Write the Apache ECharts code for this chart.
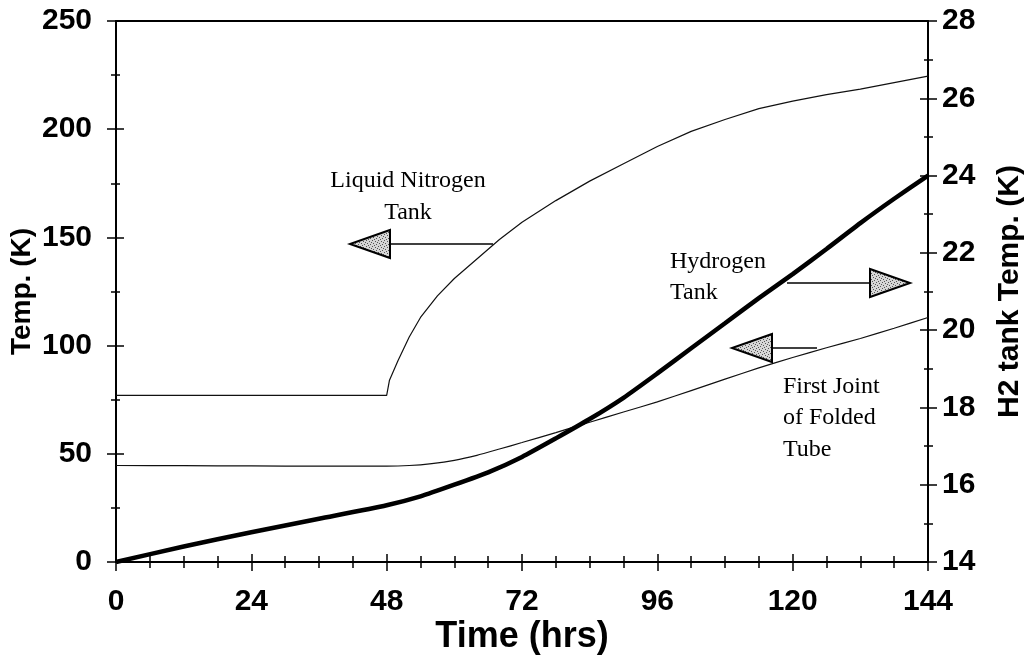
<!DOCTYPE html>
<html>
<head>
<meta charset="utf-8">
<script src="https://cdn.jsdelivr.net/npm/echarts@6/dist/echarts.min.js"></script>
<style>
html,body{margin:0;padding:0;background:#fff;overflow:hidden;}
#chart{width:1026px;height:660px;}
</style>
</head>
<body>
<div id="chart"></div>
<script>
// ---- Data ----
const ln2Hours = [0, 48, 48.5, 50, 52, 54, 57, 60, 64, 68, 72, 78, 84, 90, 96, 102, 108, 114, 120, 126, 132, 138, 144];
const ln2Temp  = [77, 77, 84, 93, 104, 113, 123, 131, 140, 149, 157, 167, 176, 184, 192, 199, 204.5, 209.5, 213, 216, 218.5, 221.5, 224.5];

const jointHours = [0, 12, 24, 36, 48, 52, 56, 60, 64, 68, 72, 78, 84, 90, 96, 102, 108, 114, 120, 126, 132, 138, 144];
const jointTemp  = [44.6, 44.5, 44.4, 44.3, 44.3, 44.6, 45.5, 47, 49.3, 52.2, 55.2, 59.8, 64.6, 69.3, 74, 79.2, 84.5, 89.7, 94.5, 99, 103.3, 108, 113];

const h2Hours = [0, 12, 24, 36, 48, 54, 60, 66, 72, 78, 84, 90, 96, 102, 108, 114, 120, 126, 132, 138, 144];
const h2Temp  = [14.0, 14.4, 14.77, 15.12, 15.47, 15.7, 16.0, 16.32, 16.72, 17.2, 17.7, 18.25, 18.88, 19.53, 20.18, 20.83, 21.45, 22.1, 22.77, 23.4, 24.0];

const xTicks = [0, 24, 48, 72, 96, 120, 144];
const leftTicks = [0, 50, 100, 150, 200, 250];
const rightTicks = [14, 16, 18, 20, 22, 24, 26, 28];

const zip = (a, b) => a.map((v, i) => [v, b[i]]);

// stipple pattern for arrow heads
const pat = document.createElement('canvas');
pat.width = 6; pat.height = 6;
(function(){
  const c = pat.getContext('2d');
  c.fillStyle = '#d6d6d6'; c.fillRect(0,0,6,6);
  c.fillStyle = '#555';
  [[0,0],[3,1],[1,3],[4,4],[5,2],[2,5]].forEach(p => c.fillRect(p[0], p[1], 1, 1));
})();

const chart = echarts.init(document.getElementById('chart'), null, {renderer: 'canvas'});
const sans = '"Liberation Sans", Arial, sans-serif';
const serif = '"Liberation Serif", "Times New Roman", serif';
const axisLine = {show: true, onZero: false, lineStyle: {color: '#000', width: 2}};
const noLine = {show: false, onZero: false};
const tickStyle = {color: '#000', width: 1.5};

function yAxisBase(extra) {
  return Object.assign({
    type: 'value',
    splitLine: {show: false},
    axisLine: axisLine
  }, extra);
}

const option = {
  animation: false,
  backgroundColor: '#fff',
  grid: {left: 116, right: 98, top: 21, bottom: 98, containLabel: false, outerBoundsMode: 'none'},
  xAxis: [
    {
      type: 'value', position: 'bottom', min: 0, max: 144, interval: 24,
      axisLine: axisLine,
      axisTick: {show: true, inside: false, length: 9, lineStyle: tickStyle},
      minorTick: {show: true, splitNumber: 4, length: 6, lineStyle: tickStyle},
      axisLabel: {show: true, margin: 25, fontFamily: sans, fontWeight: 'bold', fontSize: 30, color: '#000',
        formatter: v => xTicks.includes(v) ? String(v) : ''},
      splitLine: {show: false},
      name: 'Time (hrs)', nameLocation: 'middle', nameGap: 57, nameMoveOverlap: false,
      nameTextStyle: {fontFamily: sans, fontWeight: 'bold', fontSize: 36, color: '#000'}
    },
    {
      type: 'value', position: 'bottom', min: 0, max: 144, interval: 24,
      axisLine: noLine,
      axisTick: {show: true, inside: true, length: 8, lineStyle: tickStyle},
      minorTick: {show: true, splitNumber: 4, length: 6, lineStyle: tickStyle},
      axisLabel: {show: false}, splitLine: {show: false}
    },
    {
      type: 'value', position: 'top', min: 0, max: 144,
      axisLine: axisLine, axisTick: {show: false}, axisLabel: {show: false}, splitLine: {show: false}
    }
  ],
  yAxis: [
    yAxisBase({
      position: 'left', min: 0, max: 250, interval: 50,
      axisTick: {show: true, inside: false, length: 9, lineStyle: tickStyle},
      minorTick: {show: true, splitNumber: 2, length: 5, lineStyle: tickStyle},
      axisLabel: {margin: 24, fontFamily: sans, fontWeight: 'bold', fontSize: 30, color: '#000',
        formatter: v => leftTicks.includes(v) ? String(v) : ''},
      name: 'Temp. (K)', nameLocation: 'middle', nameGap: 80, nameRotate: 90, nameMoveOverlap: false,
      nameTextStyle: {fontFamily: sans, fontWeight: 'bold', fontSize: 28, color: '#000'}
    }),
    yAxisBase({
      position: 'right', min: 14, max: 28, interval: 2,
      axisTick: {show: true, inside: false, length: 9, lineStyle: tickStyle},
      minorTick: {show: true, splitNumber: 2, length: 5, lineStyle: tickStyle},
      axisLabel: {margin: 14, fontFamily: sans, fontWeight: 'bold', fontSize: 30, color: '#000',
        formatter: v => rightTicks.includes(v) ? String(v) : ''},
      name: 'H2 tank Temp. (K)', nameLocation: 'middle', nameGap: 67, nameRotate: 90, nameMoveOverlap: false,
      nameTextStyle: {fontFamily: sans, fontWeight: 'bold', fontSize: 30, color: '#000'}
    }),
    yAxisBase({
      position: 'left', min: 0, max: 250, interval: 50, axisLine: noLine,
      axisTick: {show: true, inside: true, length: 8, lineStyle: tickStyle},
      minorTick: {show: true, splitNumber: 2, length: 4, lineStyle: tickStyle},
      axisLabel: {show: false}
    }),
    yAxisBase({
      position: 'right', min: 14, max: 28, interval: 2, axisLine: noLine,
      axisTick: {show: true, inside: true, length: 8, lineStyle: tickStyle},
      minorTick: {show: true, splitNumber: 2, length: 4, lineStyle: tickStyle},
      axisLabel: {show: false}
    })
  ],
  series: [
    {
      name: 'Liquid Nitrogen Tank', type: 'line', xAxisIndex: 0, yAxisIndex: 0,
      data: zip(ln2Hours, ln2Temp), showSymbol: false, smooth: false,
      lineStyle: {color: '#111', width: 1.2}
    },
    {
      name: 'First Joint of Folded Tube', type: 'line', xAxisIndex: 0, yAxisIndex: 0,
      data: zip(jointHours, jointTemp), showSymbol: false, smooth: 0.2,
      lineStyle: {color: '#111', width: 1.2}
    },
    {
      name: 'Hydrogen Tank', type: 'line', xAxisIndex: 0, yAxisIndex: 1,
      data: zip(h2Hours, h2Temp), showSymbol: false, smooth: 0.2,
      lineStyle: {color: '#000', width: 4.5}
    }
  ]
};
chart.setOption(option);

// ---- Annotations (text + arrows) ----
function arrow(x1, x2, y, baseX, tipX, half) {
  return [
    {type: 'line', shape: {x1: x1, y1: y, x2: x2, y2: y}, style: {stroke: '#000', lineWidth: 1.5}, z: 10},
    {type: 'polygon', shape: {points: [[baseX, y - half], [baseX, y + half], [tipX, y]]},
      style: {fill: {image: pat, repeat: 'repeat'}, stroke: '#000', lineWidth: 2}, z: 11}
  ];
}
function txt(x, y, s, align) {
  return {type: 'text', x: x, y: y, z: 12,
    style: {text: s, font: '24px ' + serif, fill: '#000', align: align || 'left', verticalAlign: 'middle'}};
}
const g = [].concat(
  [txt(408, 181, 'Liquid Nitrogen', 'center'), txt(408, 213, 'Tank', 'center')],
  arrow(493, 390, 244, 390, 350, 14),
  [txt(670, 262, 'Hydrogen'), txt(670, 293, 'Tank')],
  arrow(787, 870, 283, 870, 910, 14),
  [txt(783, 387, 'First Joint'), txt(783, 418, 'of Folded'), txt(783, 450, 'Tube')],
  arrow(817, 772, 348, 772, 732, 14)
);
chart.setOption({graphic: g});
</script>
</body>
</html>
